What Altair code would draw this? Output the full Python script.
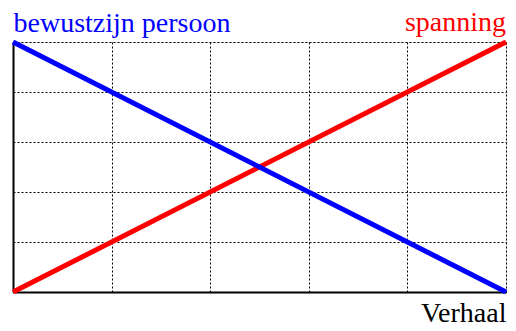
import altair as alt
import pandas as pd

# data
xs = [0, 5]
bewustzijn = [5, 0]
spanning = [0, 5]
grid_values = [0, 1, 2, 3, 4, 5]

FONT = "'Liberation Serif', 'Times New Roman', Times, serif"
BLUE = "#0000ff"
RED = "#ff0000"

df = pd.DataFrame({
    "x": xs * 2,
    "y": spanning + bewustzijn,
    "series": ["spanning"] * 2 + ["bewustzijn persoon"] * 2,
})

xscale = alt.Scale(domain=[0, 5], nice=False, zero=False)
yscale = alt.Scale(domain=[0, 5], nice=False, zero=False)

PLOT_W = 493
PLOT_H = 250

x_axis = alt.Axis(
    values=grid_values, labels=False, ticks=False,
    grid=True, gridDash=[2, 2], gridColor="black", gridOpacity=1, gridWidth=1,
    domain=True, domainColor="black", domainWidth=2,
    title="Verhaal", titleFont=FONT, titleFontSize=28, titleFontWeight="normal",
    titleColor="black", titleAlign="right", titleBaseline="alphabetic",
    titleX=PLOT_W, titleY=29, titleAngle=0,
)
y_axis = alt.Axis(
    values=grid_values, labels=False, ticks=False,
    grid=True, gridDash=[2, 2], gridColor="black", gridOpacity=1, gridWidth=1,
    domain=True, domainColor="black", domainWidth=2,
    title="bewustzijn persoon", titleFont=FONT, titleFontSize=28, titleFontWeight="normal",
    titleColor=BLUE, titleAlign="left", titleBaseline="alphabetic",
    titleX=0, titleY=-11, titleAngle=0,
)

red_line = alt.Chart(df[df.series == "spanning"]).mark_line(
    color=RED, strokeWidth=5
).encode(
    x=alt.X("x:Q", scale=xscale, axis=x_axis),
    y=alt.Y("y:Q", scale=yscale, axis=y_axis),
)
blue_line = alt.Chart(df[df.series == "bewustzijn persoon"]).mark_line(
    color=BLUE, strokeWidth=5
).encode(
    x=alt.X("x:Q", scale=xscale),
    y=alt.Y("y:Q", scale=yscale),
)

label_df = pd.DataFrame({"x": [xs[-1]], "y": [spanning[-1]], "label": ["spanning"]})
red_label = alt.Chart(label_df).mark_text(
    font=FONT, fontSize=28, color=RED, align="right", baseline="alphabetic", dy=-11, dx=0
).encode(
    x=alt.X("x:Q", scale=xscale),
    y=alt.Y("y:Q", scale=yscale),
    text="label:N",
)

chart = alt.layer(red_line, blue_line, red_label).properties(
    width=PLOT_W, height=PLOT_H,
    autosize=alt.AutoSizeParams(type="none"),
    padding={"left": 5, "top": 34, "right": 2, "bottom": 31},
).configure_view(stroke=None).configure(background="white")

chart.save("out.html", embed_options={"renderer": "svg", "actions": False})
